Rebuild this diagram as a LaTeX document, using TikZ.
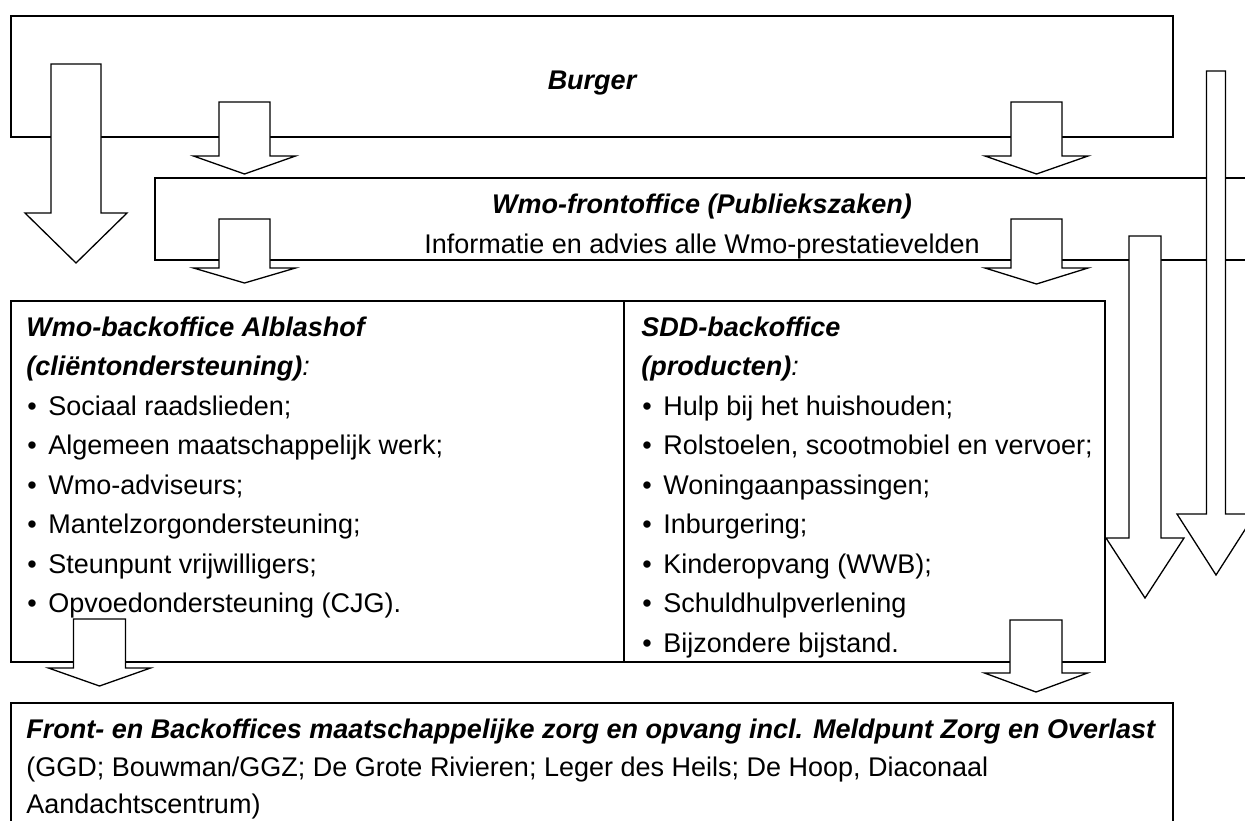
\documentclass[tikz,border=0pt]{standalone}
\usepackage{fontspec}
\setmainfont{Liberation Sans}
\tikzset{
  kader/.style={line width=1pt},
  blokpijl/.style={draw, fill=white, line width=0.65pt, line join=miter},
  tekst/.style={anchor=base west, inner sep=0pt, font=\fontsize{13.5pt}{19.75pt}\selectfont},
  kop/.style={tekst, font=\fontsize{13.5pt}{19.75pt}\selectfont\bfseries\itshape},
}
\newcommand{\opsom}[1]{\makebox[10.5pt][l]{\textbullet}#1}

\begin{document}
\begin{tikzpicture}[x=0.5pt, y=-0.5pt]
      \useasboundingbox (0,0) rectangle (1245,820);
      \clip (0,0) rectangle (1245,820);
      % kaders
      \draw[kader] (11,16) rectangle (1173,137)
                   (155,178) rectangle (1262,260)
                   (11,301) rectangle (1105,662)
                   (624,301) -- (624,662)
                   (11,703) rectangle (1173,840);
      % koppen
      \draw (592,89) node (burger) [kop, anchor=base] {Burger}
            (702,213) node (front) [kop, anchor=base] {Wmo-frontoffice (Publiekszaken)}
            (702,253) node (info) [tekst, anchor=base] {Informatie en advies alle Wmo-prestatievelden}
            (26,336) node (wmokop) [kop] {Wmo-backoffice Alblashof}
            (26,375.5) node (wmosub) [kop] {(cliëntondersteuning)\textmd{:}}
            (641,336) node (sddkop) [kop] {SDD-backoffice}
            (641,375.5) node (sddsub) [kop] {(producten)\textmd{:}}
            (26,738) node (mzo) [kop] {Front- en Backoffices maatschappelijke zorg en opvang incl. Meldpunt Zorg en Overlast}
            (26,776) node (mzoa) [tekst] {(GGD; Bouwman/GGZ; De Grote Rivieren; Leger des Heils; De Hoop, Diaconaal}
            (26,813) node (mzob) [tekst] {Aandachtscentrum)};
      % opsommingen
      \foreach \regel [count=\i from 0] in {Sociaal raadslieden;, Algemeen maatschappelijk werk;,
            Wmo-adviseurs;, Mantelzorgondersteuning;, Steunpunt vrijwilligers;, Opvoedondersteuning (CJG).}
        \node[tekst] (wmo\i) at (27,415+39.5*\i) {\opsom{\regel}};
      \foreach \regel [count=\i from 0] in {Hulp bij het huishouden;, {Rolstoelen, scootmobiel en vervoer;},
            Woningaanpassingen;, Inburgering;, Kinderopvang (WWB);, Schuldhulpverlening, Bijzondere bijstand.}
        \node[tekst] (sdd\i) at (642,415+39.5*\i) {\opsom{\regel}};
      % blokpijlen
      \foreach \xm/\ya/\yb/\yc/\sw/\hw in {76/64/213/263/25/51, 244.5/102/156/174/25.5/51,
            1036.5/102/156/174/25.5/51.5, 244.5/219/268/283/25.5/51, 1036.5/219/268/284/25.5/51.5,
            99.5/619/668/686/26/51, 1036/620/673/692/26/51.5, 1216/71/514/575/9.5/39,
            1145/236/538/598/16/39}
        \draw[blokpijl] (\xm-\sw,\ya) -- (\xm+\sw,\ya) -- (\xm+\sw,\yb) -- (\xm+\hw,\yb)
                        -- (\xm,\yc) -- (\xm-\hw,\yb) -- (\xm-\sw,\yb) -- cycle;
\end{tikzpicture}
\end{document}
